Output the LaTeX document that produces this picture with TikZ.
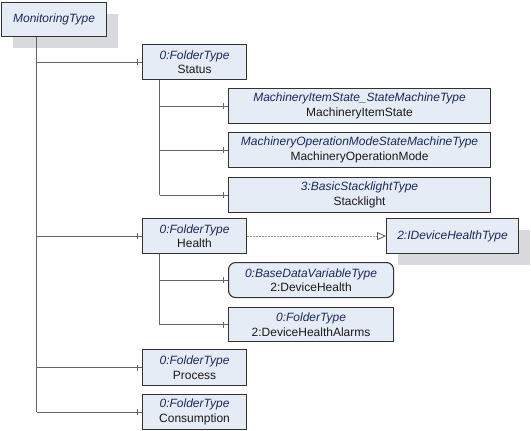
\documentclass[tikz,border=0pt]{standalone}
\usepackage{fontspec}
\setmainfont{Liberation Sans}
\usetikzlibrary{arrows.meta,shadows,decorations.markings}
\definecolor{boxfill}{RGB}{230,236,246}
\definecolor{bordercol}{RGB}{50,50,50}
\definecolor{linecol}{RGB}{100,100,100}
\definecolor{shadowcol}{RGB}{216,218,222}
\definecolor{typecol}{RGB}{28,40,92}
\definecolor{namecol}{RGB}{25,25,25}
\newcommand{\tn}[2]{{\itshape\color{typecol}#1}\\{\color{namecol}#2}}
\begin{document}
\begin{tikzpicture}[x=1pt,y=-1pt,
  box/.style={draw=bordercol, fill=boxfill, line width=1.1pt, inner sep=0pt,
    align=center, anchor=north west, font=\fontsize{12}{14.5}\selectfont},
  rbox/.style={box, rounded corners=7pt},
  shad/.style={drop shadow={shadow xshift=11pt, shadow yshift=-11pt, fill=shadowcol, opacity=1}},
  conn/.style={draw=linecol, line width=0.9pt, postaction={decorate},
    decoration={markings, mark=at position -5pt with {\draw[linecol, line width=0.9pt] (0,-3pt)--(0,3pt);}}},
  trunk/.style={draw=linecol, line width=0.9pt},
  impl/.style={draw=linecol!70, dash pattern=on 1.5pt off 1.5pt, line width=0.6pt,
    -{Triangle[open, length=9pt, width=8pt, line width=0.8pt, color=bordercol!80, fill=white]}}
]
\useasboundingbox (0,0) rectangle (531,431);

\node[box, shad, minimum width=105pt, minimum height=34pt] (mon) at (1,2)
  {\itshape\color{typecol}MonitoringType};

\node[box, minimum width=104pt, minimum height=35pt] (status) at (142,44) {\tn{0:FolderType}{Status}};
\node[box, minimum width=262pt, minimum height=35pt] (mis) at (228,88)
  {\tn{MachineryItemState\_StateMachineType}{MachineryItemState}};
\node[box, minimum width=262pt, minimum height=35pt] (mom) at (228,132)
  {\tn{MachineryOperationModeStateMachineType}{MachineryOperationMode}};
\node[box, minimum width=262pt, minimum height=35pt] (stack) at (228,177)
  {\tn{3:BasicStacklightType}{Stacklight}};
\node[box, minimum width=104pt, minimum height=35pt] (health) at (142,218) {\tn{0:FolderType}{Health}};
\node[box, shad, minimum width=132pt, minimum height=35pt] (idh) at (386,218)
  {\itshape\color{typecol}2:IDeviceHealthType};
\node[rbox, minimum width=165pt, minimum height=35pt] (dh) at (228,262)
  {\tn{0:BaseDataVariableType}{2:DeviceHealth}};
\node[box, minimum width=165pt, minimum height=34pt] (dha) at (228,307)
  {\tn{0:FolderType}{2:DeviceHealthAlarms}};
\node[box, minimum width=104pt, minimum height=36pt] (process) at (142,349) {\tn{0:FolderType}{Process}};
\node[box, minimum width=104pt, minimum height=35pt] (cons) at (142,394) {\tn{0:FolderType}{Consumption}};

% trunks
\coordinate (monT) at ([xshift=-17.5pt]mon.south);
\coordinate (statusT) at ([xshift=-35pt]status.south);
\coordinate (healthT) at ([xshift=-35pt]health.south);

\draw[trunk] (monT) -- (monT |- cons.west);
\draw[trunk] (statusT) -- (statusT |- stack.west);
\draw[trunk] (healthT) -- (healthT |- dha.west);

\draw[conn] (monT |- status.west) -- (status.west);
\draw[conn] (monT |- health.west) -- (health.west);
\draw[conn] (monT |- process.west) -- (process.west);
\draw[conn] (monT |- cons.west) -- (cons.west);

\draw[conn] (statusT |- mis.west) -- (mis.west);
\draw[conn] (statusT |- mom.west) -- (mom.west);
\draw[conn] (statusT |- stack.west) -- (stack.west);

\draw[conn] (healthT |- dh.west) -- (dh.west);
\draw[conn] (healthT |- dha.west) -- (dha.west);

\draw[impl] (health.east) -- (idh.west);
\end{tikzpicture}
\end{document}
